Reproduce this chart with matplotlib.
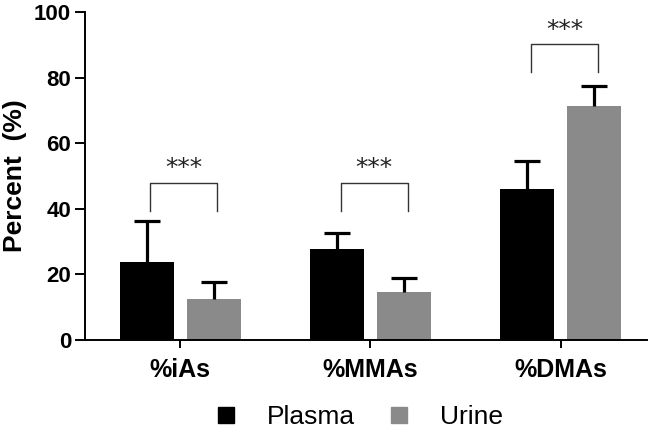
import numpy as np
import matplotlib
matplotlib.use('Agg')
import matplotlib.pyplot as plt
from matplotlib.lines import Line2D

# values
categories = ['%iAs', '%MMAs', '%DMAs']
plasma_mean = [23.7, 27.6, 46.0]
plasma_sd = [12.7, 5.1, 8.6]
urine_mean = [12.4, 14.7, 71.4]
urine_sd = [5.4, 4.3, 6.2]
# significance brackets (top of bracket, in % units)
bracket_top = [47.9, 47.9, 90.2]
bracket_labels = ['***', '***', '***']

plt.rcParams['font.family'] = ['Liberation Sans', 'DejaVu Sans']

fig = plt.figure(figsize=(6.53, 4.32), dpi=100)
ax = fig.add_axes([0.130, 0.213, 0.861, 0.759])

x = np.arange(len(categories))
width = 0.284
offset = 0.176
plasma_color = '#000000'
urine_color = '#8a8a8a'

ax.bar(x - offset, plasma_mean, width, color=plasma_color, zorder=2)
ax.bar(x + offset, urine_mean, width, color=urine_color, zorder=2)

# upper-only error bars
for xs, m, s in [(x - offset, plasma_mean, plasma_sd), (x + offset, urine_mean, urine_sd)]:
    eb = ax.errorbar(xs, m, yerr=[np.zeros(len(s)), s], fmt='none', ecolor='black',
                     elinewidth=2.3, capsize=9.5, capthick=2.3, zorder=3)
    eb[1][0].set_visible(False)

# brackets with stars
leg = 8.5
for i, top in enumerate(bracket_top):
    x0, x1 = x[i] - offset + 0.02, x[i] + offset + 0.02
    ax.plot([x0, x0, x1, x1], [top - leg, top, top, top - leg], color='#333333', lw=1.0, zorder=3)
    ax.text((x0 + x1) / 2, top + 0.8, bracket_labels[i], ha='center', va='bottom', fontsize=18,
            family='DejaVu Sans', color='#222222')

ax.set_xlim(-0.5, 2.453)
ax.set_ylim(0, 100)
ax.set_yticks(np.arange(0, 101, 20))
ax.set_xticks(x)
ax.set_xticklabels(categories, fontsize=18, fontweight='bold')
ax.tick_params(axis='y', labelsize=16, length=7, width=1.4, pad=3)
for t in ax.get_yticklabels():
    t.set_fontweight('bold')
ax.tick_params(axis='x', length=6, width=1.4, pad=7)
ax.set_ylabel('Percent  (%)', fontsize=19, fontweight='bold', labelpad=5)

for side in ['top', 'right']:
    ax.spines[side].set_visible(False)
for side in ['left', 'bottom']:
    ax.spines[side].set_linewidth(1.4)

handles = [Line2D([], [], marker='s', linestyle='none', markersize=12, color=plasma_color),
           Line2D([], [], marker='s', linestyle='none', markersize=12, color=urine_color)]
fig.legend(handles, ['Plasma', 'Urine'], loc='center', bbox_to_anchor=(0.548, 0.034),
           ncol=2, frameon=False, fontsize=19, handletextpad=1.05, columnspacing=1.2,
           handlelength=1.0)

fig.savefig('out.png', dpi=100)
